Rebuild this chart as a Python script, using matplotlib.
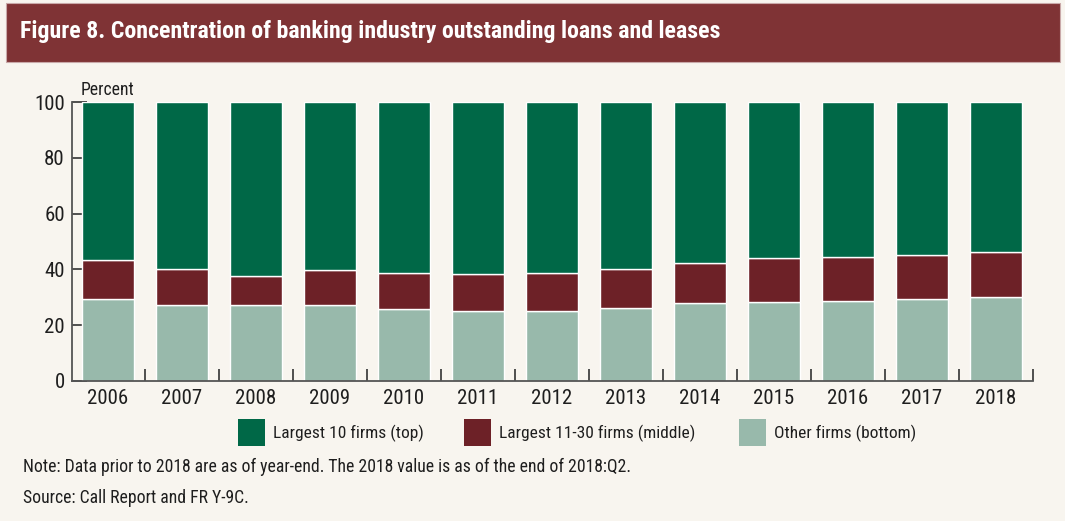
import matplotlib
matplotlib.use("Agg")
import matplotlib.pyplot as plt
from matplotlib.patches import Rectangle
from matplotlib import font_manager

years = ["2006", "2007", "2008", "2009", "2010", "2011", "2012",
         "2013", "2014", "2015", "2016", "2017", "2018"]
other = [29.4, 27.3, 27.3, 27.3, 25.7, 25.1, 25.1, 26.2, 27.8, 28.3, 28.7, 29.4, 30.1]
middle_top = [43.4, 40.3, 37.6, 39.9, 38.8, 38.5, 38.8, 40.3, 42.3, 44.0, 44.6, 45.3, 46.1]
middle = [m - o for m, o in zip(middle_top, other)]
top10 = [100 - m for m in middle_top]
labels = ["Largest 10 firms (top)", "Largest 11-30 firms (middle)", "Other firms (bottom)"]
yticks = [0, 20, 40, 60, 80, 100]

fonts = font_manager.fontManager.ttflist
names = {f.name for f in fonts}
bold_names = {f.name for f in fonts if (f.weight == 700 or f.weight == "bold") and f.style == "normal"}
cands = ["Roboto Condensed", "Archivo Narrow", "Barlow Semi Condensed", "Asap Condensed", "DejaVu Sans"]
fam = next(c for c in cands if c in names)
bfam = next(c for c in cands if c in bold_names) if any(c in bold_names for c in cands) else fam
plt.rcParams["font.family"] = [fam, "DejaVu Sans"]

c_top = "#006847"
c_mid = "#6d2127"
c_bot = "#98b9ab"
colors = [c_top, c_mid, c_bot]
bg = "#f8f5ef"
band = "#7f3335"
txtc = "#1e1e1e"

fig = plt.figure(figsize=(10.65, 5.21), dpi=100)
fig.patch.set_facecolor(bg)
W, H = 1065, 521

# title band
fig.patches.append(Rectangle((6 / W, 1 - 62 / H), 1054 / W, 59 / H, transform=fig.transFigure,
                             facecolor=band, edgecolor="#c9a9a9", linewidth=0.8, zorder=0))
fig.text(20 / W, 1 - 31.5 / H, "Figure 8. Concentration of banking industry outstanding loans and leases",
         color="white", fontsize=17.2, fontweight="bold", family=[bfam, "DejaVu Sans"],
         va="center", ha="left")

ax = fig.add_axes([71.7 / W, 1 - 381 / H, (1033 - 71.7) / W, (381 - 102) / H])
ax.set_facecolor(bg)
x = list(range(len(years)))
ax.bar(x, other, width=0.7, color=c_bot, edgecolor="white", linewidth=1, zorder=2)
ax.bar(x, middle, width=0.7, bottom=other, color=c_mid, edgecolor="white", linewidth=1, zorder=2)
ax.bar(x, top10, width=0.7, bottom=middle_top, color=c_top, edgecolor="white", linewidth=1, zorder=2)

ax.set_xlim(-0.49, len(years) - 0.5)
ax.set_ylim(0, 100)
ax.set_yticks(yticks)
ax.set_yticklabels([str(v) for v in yticks], fontsize=15, color=txtc)
ax.set_xticks(x)
ax.set_xticklabels(years, fontsize=15, color=txtc)
ax.tick_params(axis="x", which="major", length=0, pad=6)
ax.set_xticks([i + 0.5 for i in x], minor=True)
ax.tick_params(axis="x", which="minor", direction="in", length=9, width=1.2, color="#333333")
ax.tick_params(axis="y", direction="in", length=11, width=1.2, color="#333333", pad=5)
for s in ["top", "right"]:
    ax.spines[s].set_visible(False)
for s in ["left", "bottom"]:
    ax.spines[s].set_color("#555555")
    ax.spines[s].set_linewidth(1.3)

fig.text(81 / W, 1 - 90 / H, "Percent", fontsize=12.7, va="center", ha="left", color=txtc)

# legend (placed item by item)
sq_x = [238, 464, 739]
for xs, lab, col in zip(sq_x, labels, colors):
    fig.patches.append(Rectangle((xs / W, 1 - 446 / H), 27 / W, 27 / H, transform=fig.transFigure,
                                 facecolor=col, edgecolor="none"))
    fig.text((xs + 35) / W, 1 - 433 / H, lab, fontsize=12.5, va="center", ha="left", color=txtc)

fig.text(23 / W, 1 - 467 / H,
         "Note: Data prior to 2018 are as of year-end. The 2018 value is as of the end of 2018:Q2.",
         fontsize=12.7, va="center", ha="left", color=txtc)
fig.text(23 / W, 1 - 498 / H, "Source: Call Report and FR Y-9C.",
         fontsize=12.7, va="center", ha="left", color=txtc)

fig.savefig("out.png", dpi=100, facecolor=bg)
